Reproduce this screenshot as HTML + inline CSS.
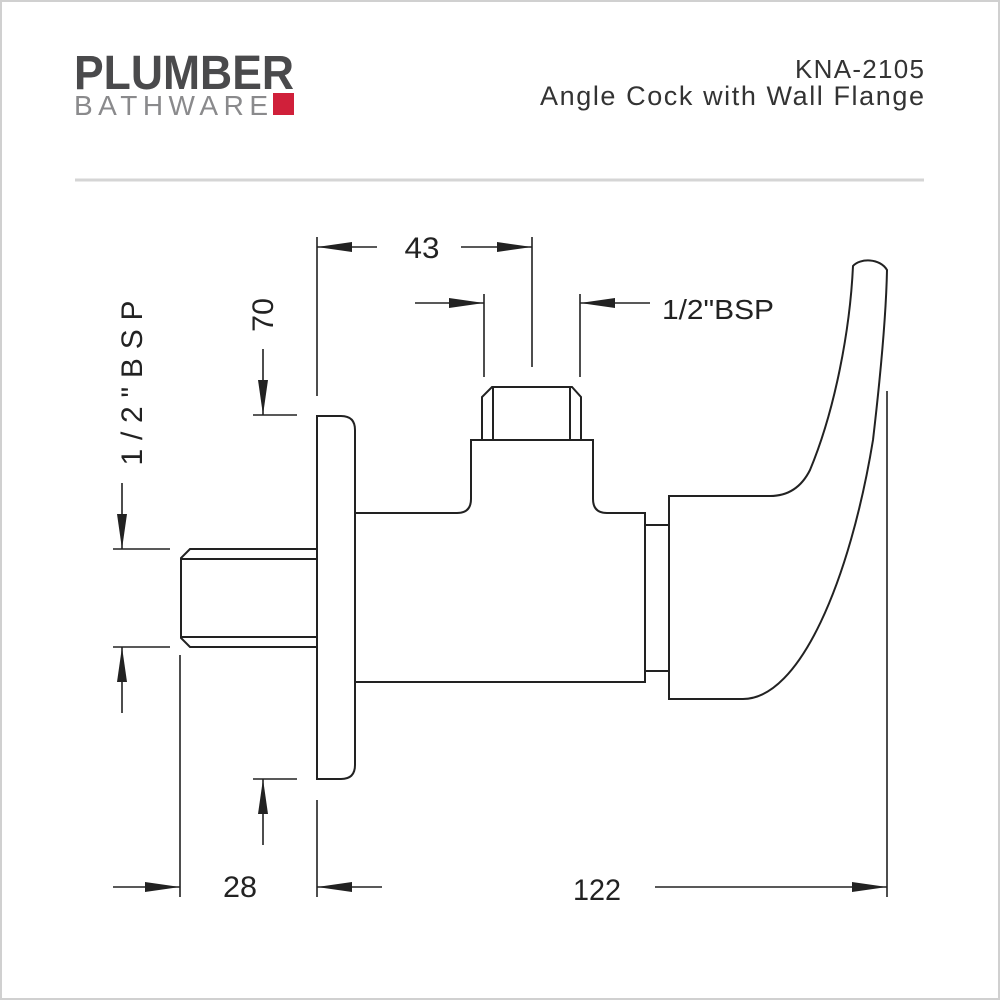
<!DOCTYPE html>
<html><head><meta charset="utf-8"><style>
html,body{margin:0;padding:0;background:#fff}
svg{display:block}
text{font-family:"Liberation Sans",Arial,sans-serif}
</style></head><body>
<svg width="1000" height="1000" viewBox="0 0 1000 1000" xmlns="http://www.w3.org/2000/svg">
<rect x="1" y="1" width="998" height="998" fill="#fff" stroke="#d0d0d0" stroke-width="2"/>
<!-- logo -->
<text x="74" y="89" font-size="48" font-weight="bold" fill="#4a4a4c" textLength="220" lengthAdjust="spacingAndGlyphs">PLUMBER</text>
<text x="74" y="115" font-size="28" fill="#8a8a8c" textLength="194" lengthAdjust="spacing">BATHWARE</text>
<rect x="273" y="93" width="21" height="22" fill="#d0203a"/>
<!-- title -->
<text x="924" y="78" font-size="26" fill="#333" text-anchor="end" textLength="129" lengthAdjust="spacing">KNA-2105</text>
<text x="924" y="105" font-size="27" fill="#333" text-anchor="end" textLength="384" lengthAdjust="spacing">Angle Cock with Wall Flange</text>
<line x1="75" y1="180" x2="924" y2="180" stroke="#d5d5d5" stroke-width="3"/>

<g fill="none" stroke="#222" stroke-width="2">
<path d="M316 549 H190 L181 558 V638 L190 647 H316"/>
<line x1="181" y1="559" x2="316" y2="559"/>
<line x1="181" y1="637" x2="316" y2="637"/>
<path d="M317 416 H341 Q355 416 355 430 V765 Q355 779 341 779 H317 Z"/>
<path d="M355 513 H457 Q471 513 471 499 V440 H593 V499 Q593 513 607 513 H645 V682 H355"/>
<path d="M482 440 V397 L492 387 H572 L581 397 V440"/>
<line x1="493" y1="388" x2="493" y2="440"/>
<line x1="570" y1="388" x2="570" y2="440"/>
<path d="M645 525 H669 M645 671 H669"/>
<path d="M669 496 V699 H743 C800 699 850 580 873 440 C880 380 886 320 887 270 C880 258 860 258 853 266 C850 330 835 410 810 470 C800 490 785 496 770 496 Z"/>
</g>

<g stroke="#222" stroke-width="1.6" fill="none">
<line x1="317" y1="237" x2="317" y2="396"/>
<line x1="532" y1="237" x2="532" y2="367"/>
<line x1="484" y1="294" x2="484" y2="377"/>
<line x1="580" y1="294" x2="580" y2="377"/>
<line x1="887" y1="391" x2="887" y2="897"/>
<line x1="180" y1="655" x2="180" y2="897"/>
<line x1="317" y1="800" x2="317" y2="897"/>
<line x1="253" y1="415" x2="297" y2="415"/>
<line x1="253" y1="779" x2="297" y2="779"/>
<line x1="113" y1="549" x2="170" y2="549"/>
<line x1="113" y1="647" x2="170" y2="647"/>
<line x1="317" y1="247" x2="377" y2="247"/>
<line x1="461" y1="247" x2="532" y2="247"/>
<line x1="415" y1="303" x2="484" y2="303"/>
<line x1="580" y1="303" x2="650" y2="303"/>
<line x1="263" y1="349" x2="263" y2="415"/>
<line x1="263" y1="779" x2="263" y2="845"/>
<line x1="122" y1="483" x2="122" y2="549"/>
<line x1="122" y1="647" x2="122" y2="713"/>
<line x1="113" y1="887" x2="180" y2="887"/>
<line x1="317" y1="887" x2="382" y2="887"/>
<line x1="655" y1="887" x2="887" y2="887"/>
</g>
<g fill="#222">
<path d="M317 247 L352 242 L352 252Z"/>
<path d="M532 247 L497 242 L497 252Z"/>
<path d="M484 303 L449 298 L449 308Z"/>
<path d="M580 303 L615 298 L615 308Z"/>
<path d="M263 415 L258 380 L268 380Z"/>
<path d="M263 779 L258 814 L268 814Z"/>
<path d="M122 549 L117 514 L127 514Z"/>
<path d="M122 647 L117 682 L127 682Z"/>
<path d="M180 887 L145 882 L145 892Z"/>
<path d="M317 887 L352 882 L352 892Z"/>
<path d="M887 887 L852 882 L852 892Z"/>
</g>
<g font-size="30" fill="#222">
<text x="422" y="258" text-anchor="middle" textLength="35" lengthAdjust="spacingAndGlyphs">43</text>
<text x="662" y="319" font-size="28" textLength="112" lengthAdjust="spacingAndGlyphs">1/2"BSP</text>
<text x="240" y="897" text-anchor="middle" textLength="34" lengthAdjust="spacingAndGlyphs">28</text>
<text x="597" y="900" text-anchor="middle" textLength="48" lengthAdjust="spacingAndGlyphs">122</text>
<text transform="translate(273,315) rotate(-90)" text-anchor="middle" textLength="34" lengthAdjust="spacingAndGlyphs">70</text>
<text transform="translate(142,383) rotate(-90)" text-anchor="middle" textLength="165" lengthAdjust="spacing">1/2"BSP</text>
</g>
</svg>
</body></html>
